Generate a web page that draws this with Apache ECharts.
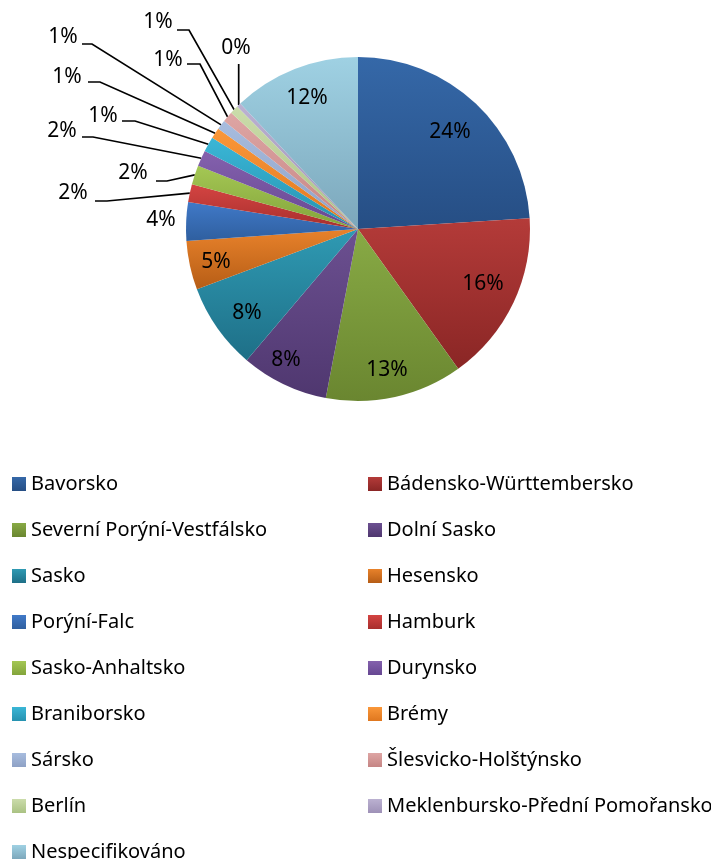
<!DOCTYPE html>
<html><head><meta charset="utf-8">
<script src="https://cdn.jsdelivr.net/npm/echarts@6/dist/echarts.min.js"></script>
<style>html,body{margin:0;padding:0;background:#fff}#c{width:711px;height:859px}</style>
</head><body><div id="c"></div>
<script>
const categories = ['Bavorsko','Bádensko-Württembersko','Severní Porýní-Vestfálsko','Dolní Sasko','Sasko','Hesensko','Porýní-Falc','Hamburk','Sasko-Anhaltsko','Durynsko','Braniborsko','Brémy','Sársko','Šlesvicko-Holštýnsko','Berlín','Meklenbursko-Přední Pomořansko','Nespecifikováno'];
const values = [24.0, 16.1, 12.9, 8.2, 8.1, 4.6, 3.6, 1.7, 1.8, 1.5, 1.4, 1.0, 0.9, 1.0, 0.8, 0.4, 12.0];
const colorsTop = ['#3568a8','#b43b39','#88aa45','#6c5091','#2f9ab3','#e8822b','#4079c8','#d44442','#a4c754','#8461ad','#3ab6d6','#fa9739','#a7bcde','#dea5a4','#cbdcab','#bbb1d1','#9fd1e3'];
const colorsBottom = ['#264e84','#8a2625','#6a8630','#4f376f','#1e6f87','#b65d16','#2f5f9f','#a82f2d','#83a43b','#664792','#2692b0','#df771f','#8ea1c5','#c58584','#aac283','#9e91b7','#7ca7bb'];

const CX = 358, CY = 229, R = 172;
const FONT = '"Noto Sans", sans-serif';
// label placement (style config): text centre; for leader lines, y of the horizontal stub and its x range
const labelPos = {
  0:  {x:450, y:132},
  1:  {x:483, y:284},
  2:  {x:387, y:370},
  3:  {x:286, y:360},
  4:  {x:247, y:313},
  5:  {x:216, y:262},
  16: {x:307, y:98},
  6:  {x:161, y:220},
  7:  {x:73,  y:193, ly:201, x0:95,  x1:107},
  8:  {x:133, y:173, ly:181, x0:156, x1:167},
  9:  {x:62,  y:131, ly:137, x0:82,  x1:93},
  10: {x:103, y:116, ly:121, x0:122, x1:135},
  11: {x:67,  y:77,  ly:82,  x0:88,  x1:100},
  12: {x:63,  y:37,  ly:44,  x0:82,  x1:92},
  13: {x:168, y:60,  ly:64,  x0:187, x1:200},
  14: {x:158, y:22,  ly:30,  x0:177, x1:189},
  15: {x:236, y:48,  vertical:true}
};

const data = categories.map((name, i) => {
  const inside = values[i] >= 4.5;
  return {
    name, value: values[i],
    itemStyle: {color: new echarts.graphic.LinearGradient(0,0,0,1,[{offset:0,color:colorsTop[i]},{offset:1,color:colorsBottom[i]}])},
    label: {position: inside ? 'inside' : 'outside'},
    labelLine: {show: !inside && i !== 6}
  };
});

const chart = echarts.init(document.getElementById('c'));
chart.setOption({
  animation: false,
  series: [{
    type: 'pie',
    center: [CX, CY], radius: R,
    startAngle: 90, clockwise: true,
    avoidLabelOverlap: false,
    data,
    label: {
      show: true, color: '#000', fontSize: 21, fontFamily: FONT,
      formatter: p => Math.round(p.value) + '%'
    },
    labelLine: {show: true, length: 10, length2: 10, lineStyle: {color: '#000', width: 1.7}},
    labelLayout: function (p) {
      const o = labelPos[p.dataIndex];
      if (!o) return {};
      const res = {x: o.x, y: o.y, align: 'center', verticalAlign: 'middle'};
      const p0 = p.labelLinePoints ? p.labelLinePoints[0] : null;
      if (p0 && o.vertical) {
        res.labelLinePoints = [[p0[0], p0[1]], [p0[0], o.y + 16], [p0[0], o.y + 16]];
      } else if (p0 && o.ly) {
        res.labelLinePoints = [[p0[0], p0[1]], [o.x1, o.ly], [o.x0, o.ly]];
      }
      return res;
    }
  }],
  legend: [0, 1].map(col => ({
    data: categories.filter((_, i) => i % 2 === col),
    orient: 'vertical',
    left: col === 0 ? 7 : 363, top: 469, height: 389,
    itemWidth: 14, itemHeight: 14, itemGap: 26, icon: 'rect',
    selectedMode: false,
    textStyle: {fontSize: 20, lineHeight: 20, color: '#000', fontFamily: FONT}
  }))
});
</script></body></html>
